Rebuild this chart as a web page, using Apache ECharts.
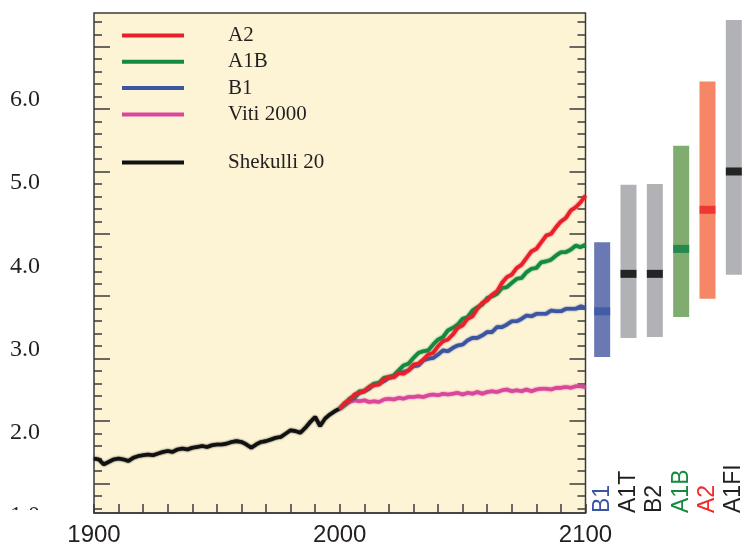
<!DOCTYPE html>
<html>
<head>
<meta charset="utf-8">
<script src="https://cdn.jsdelivr.net/npm/echarts@6/dist/echarts.min.js"></script>
<style>
  html, body { margin: 0; padding: 0; background: #ffffff; }
  #chart { width: 747px; height: 548px; }
</style>
</head>
<body>
<div id="chart"></div>
<script>
// Observed record, 1900-2000
const histYears = [1900,1902,1904,1906,1908,1910,1912,1914,1916,1918,1920,1922,1924,1926,1928,1930,1932,1934,1936,1938,1940,1942,1944,1946,1948,1950,1952,1954,1956,1958,1960,1962,1964,1966,1968,1970,1972,1974,1976,1978,1980,1982,1984,1986,1988,1990,1992,1994,1996,1998,2000];
const histValues = [1.69,1.68,1.62,1.65,1.68,1.69,1.68,1.66,1.70,1.72,1.73,1.74,1.73,1.75,1.77,1.78,1.77,1.80,1.81,1.80,1.82,1.83,1.84,1.83,1.85,1.86,1.86,1.87,1.89,1.90,1.89,1.86,1.82,1.86,1.89,1.90,1.92,1.94,1.95,1.99,2.03,2.02,2.00,2.06,2.13,2.19,2.08,2.17,2.22,2.26,2.29];

// Scenario projections, 2000-2100
const projYears = [2000,2002,2004,2006,2008,2010,2012,2014,2016,2018,2020,2022,2024,2026,2028,2030,2032,2034,2036,2038,2040,2042,2044,2046,2048,2050,2052,2054,2056,2058,2060,2062,2064,2066,2068,2070,2072,2074,2076,2078,2080,2082,2084,2086,2088,2090,2092,2094,2096,2098,2100];
const a2Values = [2.29,2.36,2.39,2.46,2.48,2.50,2.55,2.57,2.58,2.64,2.67,2.67,2.72,2.71,2.75,2.82,2.83,2.88,2.94,2.96,3.04,3.10,3.12,3.18,3.26,3.29,3.37,3.40,3.49,3.56,3.59,3.66,3.70,3.80,3.87,3.90,3.98,4.02,4.10,4.18,4.21,4.29,4.37,4.39,4.47,4.54,4.58,4.67,4.71,4.77,4.85];
const a1bValues = [2.29,2.34,2.41,2.44,2.50,2.50,2.55,2.59,2.60,2.66,2.67,2.69,2.75,2.81,2.83,2.90,2.96,2.98,2.99,3.06,3.12,3.15,3.23,3.26,3.30,3.37,3.39,3.47,3.51,3.54,3.62,3.64,3.67,3.74,3.75,3.80,3.85,3.86,3.93,3.97,3.98,4.05,4.06,4.08,4.13,4.17,4.17,4.20,4.25,4.23,4.26];
const b1Values = [2.29,2.34,2.40,2.42,2.48,2.50,2.53,2.59,2.59,2.62,2.66,2.67,2.72,2.73,2.75,2.80,2.81,2.87,2.89,2.90,2.94,2.99,2.98,3.02,3.05,3.06,3.11,3.14,3.14,3.17,3.21,3.21,3.27,3.27,3.30,3.34,3.34,3.37,3.41,3.40,3.43,3.43,3.43,3.47,3.46,3.46,3.49,3.49,3.49,3.52,3.50];
const y2000Values = [2.29,2.33,2.37,2.39,2.38,2.39,2.37,2.38,2.37,2.40,2.41,2.40,2.42,2.41,2.43,2.43,2.44,2.43,2.45,2.46,2.45,2.47,2.46,2.47,2.48,2.46,2.48,2.47,2.49,2.47,2.49,2.50,2.49,2.51,2.52,2.50,2.51,2.50,2.52,2.50,2.52,2.53,2.53,2.52,2.54,2.54,2.55,2.54,2.56,2.56,2.55];

// Likely ranges at 2100 per scenario
const rangeNames = ['B1', 'A1T', 'B2', 'A1B', 'A2', 'A1FI'];
const rangeLow   = [2.91, 3.14, 3.15, 3.39, 3.61, 3.90];
const rangeHigh  = [4.29, 4.98, 4.99, 5.45, 6.22, 6.96];
const rangeBest  = [3.46, 3.91, 3.91, 4.21, 4.68, 5.14];

// Y-axis labels
const yLabelValues = [1, 2, 3, 4, 5, 6];

const C = {
  a2: '#e8202a', a1b: '#138a3f', b1: '#3c55a0', y2000: '#d9479b', hist: '#111111',
  frame: '#3a3a3a', text: '#231f20', bg: '#fdf4d6'
};
const barFill   = ['#6a78b3', '#b1b2b6', '#b1b2b6', '#80ad6f', '#f58767', '#b1b2b6'];
const bestFill  = ['#3a55a4', '#000000', '#000000', '#0e8043', '#ee2229', '#000000'];
const labelFill = ['#3a55a4', '#231f20', '#231f20', '#138a3f', '#ee2a2a', '#231f20'];

const pairs = (xs, ys) => xs.map((x, i) => [x, ys[i]]);

const PL = 94, PW = 491.5;
const tickStyle = { color: C.frame, width: 1.5 };

function lineSeries(name, xs, ys, color) {
  return {
    name, type: 'line', xAxisIndex: 1, yAxisIndex: 1,
    data: pairs(xs, ys), showSymbol: false, symbol: 'none',
    lineStyle: { color, width: 3.6, shadowColor: color, shadowBlur: 2 },
    itemStyle: { color }, silent: true, animation: false
  };
}

const legendText = { fontFamily: 'Liberation Serif', fontSize: 21, color: C.text, lineHeight: 20, padding: [0, 0, 0, 39] };

const chart = echarts.init(document.getElementById('chart'), null, { renderer: 'canvas' });
chart.setOption({
  animation: false,
  backgroundColor: '#ffffff',
  grid: [
    { left: PL, top: 13, width: PW, height: 500, show: true, backgroundColor: C.bg, borderColor: C.frame, borderWidth: 1.5 },
    { left: PL, top: 16.7, width: PW, height: 499.3 },
    { left: PL, top: 46.7, width: PW, height: 436.7 },
    { left: PL, top: 21.8, width: PW, height: 486.5 },
    { left: 589, top: 16.7, width: 165.6, height: 499.3 }
  ],
  xAxis: [
    { gridIndex: 0, type: 'value', min: 1900, max: 2100, interval: 10,
      axisLine: { show: true, lineStyle: tickStyle },
      axisTick: { show: true, inside: true, length: 9, lineStyle: tickStyle },
      splitLine: { show: false },
      axisLabel: { margin: 10, fontFamily: 'Liberation Sans', fontSize: 24, color: C.text,
        formatter: v => (v % 100 === 0 ? String(v) : '') } },
    { gridIndex: 1, type: 'value', min: 1900, max: 2100, show: false },
    { gridIndex: 2, type: 'value', min: 1900, max: 2100, show: false },
    { gridIndex: 3, type: 'value', min: 1900, max: 2100, show: false },
    { gridIndex: 4, type: 'category', data: rangeNames,
      axisLine: { show: false }, axisTick: { show: false }, splitLine: { show: false },
      axisLabel: { inside: true, rotate: 90, interval: 0, margin: 3, fontFamily: 'Liberation Sans', fontSize: 23,
        color: (v, i) => labelFill[i] } }
  ],
  yAxis: [
    { gridIndex: 0, type: 'value', min: 0, max: 1, show: false },
    { gridIndex: 1, type: 'value', min: 1, max: 7, interval: 1,
      axisLine: { show: false }, axisTick: { show: false }, splitLine: { show: false },
      axisLabel: { margin: 54, fontFamily: 'Liberation Serif', fontSize: 24, color: C.text,
        formatter: v => (yLabelValues.indexOf(v) >= 0 ? v.toFixed(1) : '') } },
    { gridIndex: 2, type: 'value', position: 'left', min: 0, max: 35, interval: 5,
      axisLine: { show: false }, axisLabel: { show: false }, splitLine: { show: false },
      axisTick: { show: true, inside: true, length: 16, lineStyle: tickStyle } },
    { gridIndex: 2, type: 'value', position: 'right', min: 0, max: 35, interval: 5,
      axisLine: { show: false }, axisLabel: { show: false }, splitLine: { show: false },
      axisTick: { show: true, inside: true, length: 16, lineStyle: tickStyle } },
    { gridIndex: 3, type: 'value', position: 'left', min: 0, max: 39, interval: 1,
      axisLine: { show: false }, axisLabel: { show: false }, splitLine: { show: false },
      axisTick: { show: true, inside: true, length: 8, lineStyle: tickStyle } },
    { gridIndex: 3, type: 'value', position: 'right', min: 0, max: 39, interval: 1,
      axisLine: { show: false }, axisLabel: { show: false }, splitLine: { show: false },
      axisTick: { show: true, inside: true, length: 8, lineStyle: tickStyle } },
    { gridIndex: 4, type: 'value', min: 1, max: 7, show: false }
  ],
  legend: [
    { data: ['A2', 'A1B', 'B1', 'Viti 2000'], left: 122, top: 25, padding: 0, orient: 'vertical',
      icon: 'rect', itemWidth: 62, itemHeight: 4, itemGap: 5.3, selectedMode: false, textStyle: legendText },
    { data: ['Shekulli 20'], left: 122, top: 152, padding: 0, orient: 'vertical',
      icon: 'rect', itemWidth: 62, itemHeight: 4, selectedMode: false, textStyle: legendText }
  ],
  graphic: [
    { type: 'rect', z: 100, shape: { x: 0, y: 510, width: 92, height: 14 }, style: { fill: '#ffffff' } }
  ],
  series: [
    lineSeries('Shekulli 20', histYears, histValues, C.hist),
    lineSeries('Viti 2000', projYears, y2000Values, C.y2000),
    lineSeries('B1', projYears, b1Values, C.b1),
    lineSeries('A1B', projYears, a1bValues, C.a1b),
    lineSeries('A2', projYears, a2Values, C.a2),
    { type: 'bar', xAxisIndex: 4, yAxisIndex: 6, stack: 'range', barWidth: 16, silent: true,
      data: rangeLow, itemStyle: { color: 'rgba(0,0,0,0)' } },
    { type: 'bar', xAxisIndex: 4, yAxisIndex: 6, stack: 'range', barWidth: 16, silent: true,
      data: rangeHigh.map((h, i) => ({ value: +(h - rangeLow[i]).toFixed(3), itemStyle: { color: barFill[i] } })) },
    { type: 'scatter', xAxisIndex: 4, yAxisIndex: 6, symbol: 'rect', symbolSize: [16, 8], silent: true, z: 5,
      data: rangeBest.map((b, i) => ({ value: [i, b], itemStyle: { color: bestFill[i] } })) }
  ]
});
</script>
</body>
</html>
